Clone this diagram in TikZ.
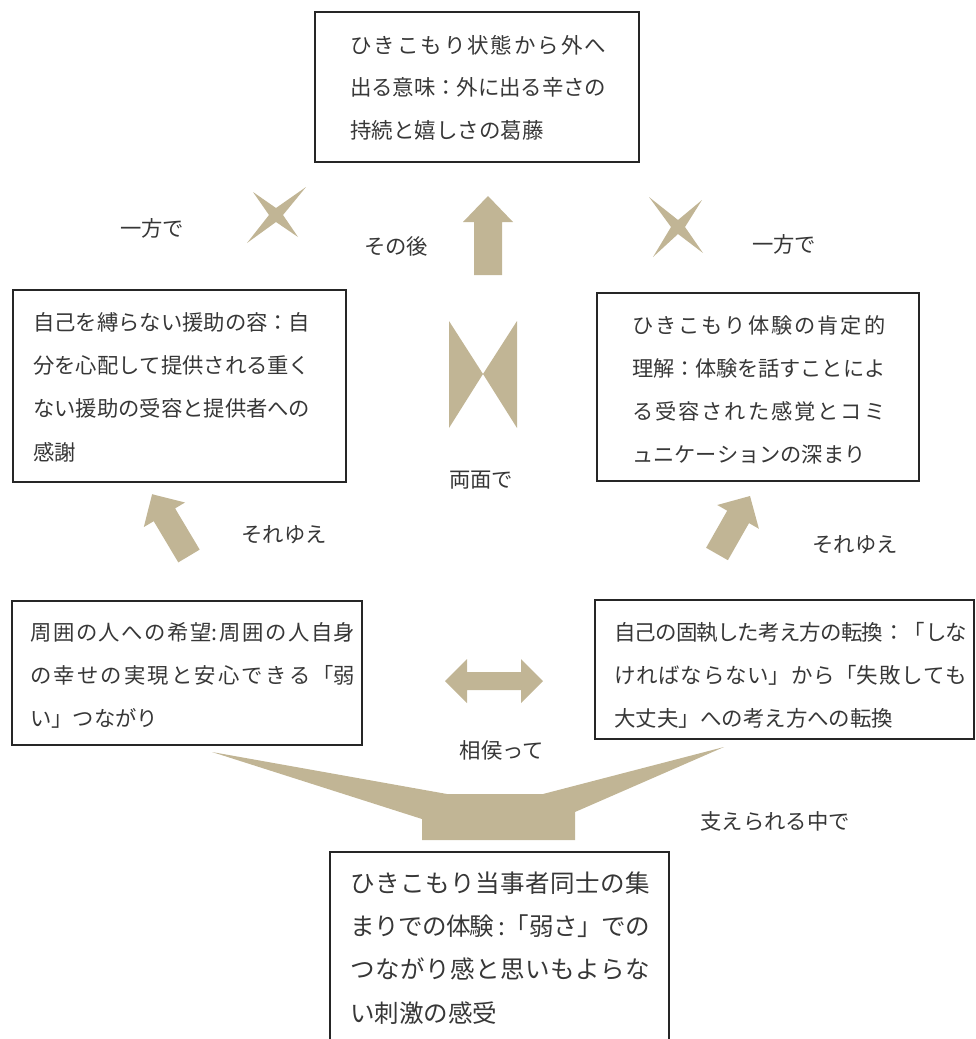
\documentclass[tikz,border=0pt]{standalone}
\usepackage{fontspec}
\newfontfamily\jp{Noto Sans CJK JP}
\XeTeXlinebreaklocale "ja"
\XeTeXlinebreakskip=0pt plus 3pt minus 1.5pt
\definecolor{tanfill}{RGB}{193,181,149}
\definecolor{txt}{RGB}{55,55,55}
\begin{document}
\begin{tikzpicture}[x=0.75pt,y=-0.75pt,
  box/.style={draw=black!85,line width=1.3pt,rectangle,inner sep=0pt},
  btxt/.style={anchor=west,inner sep=0pt,align=justify,text=txt},
  lbl/.style={text=txt,font=\jp\fontsize{16}{18}\selectfont,inner sep=0pt},
  blk/.style={fill=tanfill,draw=none}]
\useasboundingbox (0,0) rectangle (975,1039);
\clip (0,0) rectangle (975,1039);

% boxes
\node[box,minimum width=243pt,minimum height=112.5pt] (top) at (477,87) {};
\node[box,minimum width=249.75pt,minimum height=144pt] (lmid) at (179.5,386) {};
\node[box,minimum width=241.5pt,minimum height=141pt] (rmid) at (758,387) {};
\node[box,minimum width=262.5pt,minimum height=108pt] (llow) at (187,673) {};
\node[box,minimum width=284.25pt,minimum height=104.25pt] (rlow) at (784.5,669.5) {};
\node[box,minimum width=254.25pt,minimum height=148.5pt] (bot) at (499.5,951) {};

% box texts
\node[btxt,text width=192pt,font=\jp\fontsize{16.1}{31.9}\selectfont] (topt) at (350,87.5)
  {\noindent ひきこもり状態から外へ\linebreak 出る意味：外に出る辛さの\linebreak 持続と嬉しさの葛藤};
\node[btxt,text width=207.75pt,font=\jp\fontsize{16}{32.5}\selectfont] (lmidt) at (33,387)
  {\noindent 自己を縛らない援助の容：自\linebreak 分を心配して提供される重く\linebreak ない援助の受容と提供者への\linebreak 感謝};
\node[btxt,text width=189.75pt,font=\jp\fontsize{15.9}{32.25}\selectfont] (rmidt) at (632,389.5)
  {\noindent ひきこもり体験の肯定的\linebreak 理解：体験を話すことによ\linebreak る受容された感覚とコミ\linebreak ュニケーションの深まり};
\node[btxt,text width=243.75pt,font=\jp\fontsize{16}{32.25}\selectfont] (llowt) at (30,675)
  {\noindent 周囲の人への希望:周囲の人自身\linebreak の幸せの実現と安心できる「弱\linebreak い」つながり};
\node[btxt,text width=264.75pt,font=\jp\fontsize{16.1}{32.25}\selectfont] (rlowt) at (614,675)
  {\noindent 自己の固執した考え方の転換：「しな\linebreak ければならない」から「失敗しても\linebreak 大丈夫」への考え方への転換};
\node[btxt,text width=225pt,font=\jp\fontsize{18.4}{32.5}\selectfont] (bott) at (350,948)
  {\noindent ひきこもり当事者同士の集\linebreak まりでの体験\,:「弱さ」での\linebreak つながり感と思いもよらな\linebreak い刺激の感受};

% labels
\node[lbl] (l1) at (152,228) {一方で};
\node[lbl] (l2) at (396,246) {その後};
\node[lbl] (l3) at (784,244) {一方で};
\node[lbl] (l4) at (481,480) {両面で};
\node[lbl] (l5) at (284,535) {それゆえ};
\node[lbl] (l6) at (855,545) {それゆえ};
\node[lbl] (l7) at (502,750) {相侯って};
\node[lbl] (l8) at (775,821) {支えられる中で};

% crosses
\fill[blk] (253,192) -- (276,208) -- (306,187) -- (283,215) -- (298,237) -- (276,222) -- (247,243) -- (269,215) -- cycle;
\fill[blk] (649,197) -- (678,220) -- (702,200) -- (685,227) -- (703,253) -- (678,234) -- (653,257) -- (671,227) -- cycle;

% up arrow
\fill[blk] (488,196) -- (513,222) -- (502,222) -- (502,275) -- (474,275) -- (474,222) -- (463,222) -- cycle;

% bow tie
\fill[blk] (449,321) -- (483,374) -- (449,428) -- cycle;
\fill[blk] (517,321) -- (483,374) -- (517,428) -- cycle;

% diagonal arrows
\fill[blk] (152.1,494.2) -- (185.0,502.5) -- (175.1,508.4) -- (199.7,549.6) -- (178.3,562.4) -- (153.7,521.2) -- (143.8,527.1) -- cycle;
\fill[blk] (750,496) -- (758.9,528.8) -- (749.0,523.1) -- (727.9,560.2) -- (706.1,547.8) -- (727.2,510.7) -- (717.2,505.0) -- cycle;

% double arrow
\fill[blk] (445,681) -- (467,659) -- (467,672) -- (521,672) -- (521,659) -- (543,681) -- (521,703) -- (521,690) -- (467,690) -- (467,703) -- cycle;

% funnel
\fill[blk] (212,752) -- (447,794) -- (543,794) -- (724,747) -- (575,812) -- (575,840) -- (422,840) -- (422,819) -- cycle;
\end{tikzpicture}
\end{document}
